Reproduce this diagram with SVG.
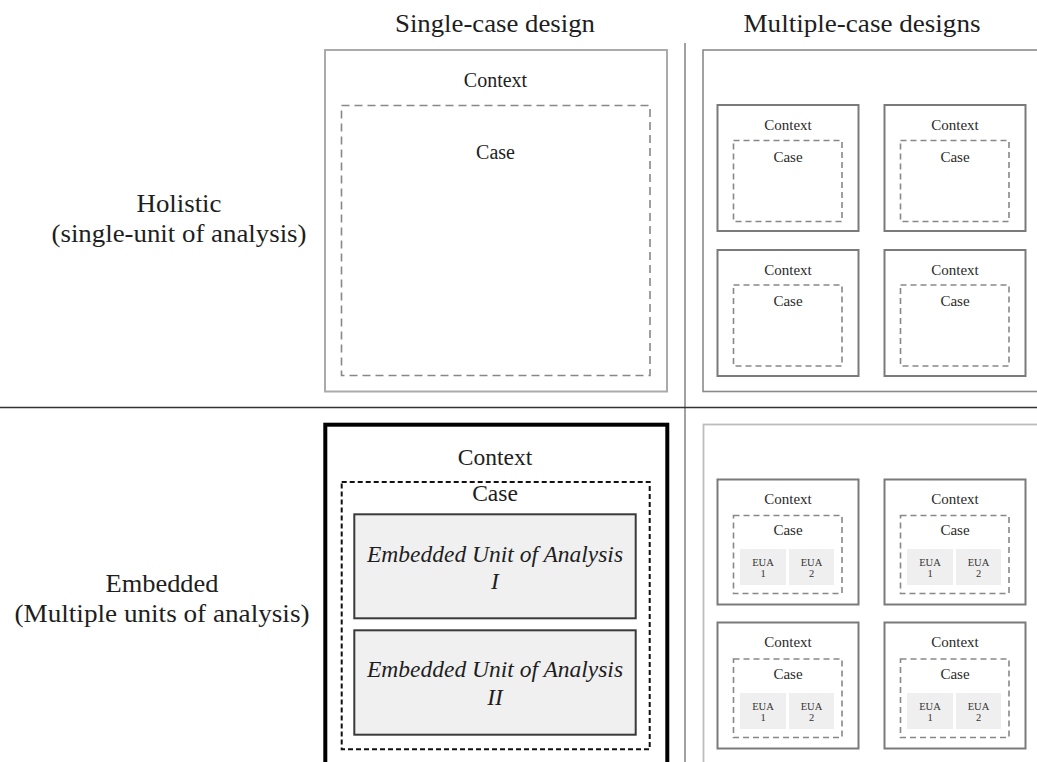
<svg xmlns="http://www.w3.org/2000/svg" width="1037" height="762" viewBox="0 0 1037 762">
  <style>
    text { font-family: 'Liberation Serif', 'Tinos', 'Times New Roman', Times, 'DejaVu Serif', serif; fill: #1e1e1e; text-anchor: middle; }
    .head { font-size: 25px; }
    .lbl20 { font-size: 20px; }
    .lbl23 { font-size: 23.5px; }
    .eua-big { font-size: 23.5px; font-style: italic; }
    .lbl15 { font-size: 15px; fill: #2a2a2a; }
    .eua-small { font-size: 10.5px; fill: #333; }
    .frame-light { fill: #fff; stroke: #aaa; stroke-width: 2; }
    .frame-mid { fill: none; stroke: #8a8a8a; stroke-width: 1.6; }
    .frame-pale { fill: none; stroke: #bdbdbd; stroke-width: 1.8; }
    .sub { fill: #fff; stroke: #7a7a7a; stroke-width: 2; }
    .dash-grey { fill: none; stroke: #888; stroke-width: 1.6; stroke-dasharray: 8 5; }
    .dash-small { fill: none; stroke: #888; stroke-width: 1.6; stroke-dasharray: 6 4; }
    .thick { fill: #fff; stroke: #000; stroke-width: 4; }
    .dash-black { fill: none; stroke: #111; stroke-width: 2; stroke-dasharray: 5 3; }
    .eua-box { fill: #f0f0f0; stroke: #3a3a3a; stroke-width: 2; }
    .eua-cell { fill: #efefef; }
  </style>

  <rect width="1037" height="762" fill="#fff"/>

  <!-- grid dividers -->
  <g id="dividers">
    <line x1="685" y1="43" x2="685" y2="762" stroke="#8a8a8a" stroke-width="1.6"/>
    <line x1="0" y1="407.5" x2="1037" y2="407.5" stroke="#333" stroke-width="1.6"/>
  </g>

  <g font-family="Liberation Serif, serif">
  <!-- column and row headings -->
  <g id="headings">
    <text class="head" x="495" y="32" textLength="200" lengthAdjust="spacingAndGlyphs">Single-case design</text>
    <text class="head" x="862" y="32" textLength="237" lengthAdjust="spacingAndGlyphs">Multiple-case designs</text>
    <text class="head" x="179" y="212" textLength="85" lengthAdjust="spacingAndGlyphs">Holistic</text>
    <text class="head" x="179" y="242" textLength="255" lengthAdjust="spacingAndGlyphs">(single-unit of analysis)</text>
    <text class="head" x="162" y="592" textLength="113" lengthAdjust="spacingAndGlyphs">Embedded</text>
    <text class="head" x="162" y="622" textLength="295" lengthAdjust="spacingAndGlyphs">(Multiple units of analysis)</text>
  </g>

  <!-- holistic single-case -->
  <g id="holistic-single">
    <rect class="frame-light" x="325" y="50" width="342" height="341.5"/>
    <text class="lbl20" x="495.5" y="86.5">Context</text>
    <rect class="dash-grey" x="341.5" y="105.5" width="308.5" height="270"/>
    <text class="lbl20" x="495.5" y="158.5">Case</text>
  </g>

  <!-- holistic multiple-case -->
  <g id="holistic-multiple">
    <rect class="frame-mid" x="703" y="50" width="360" height="341.5"/>
    <g id="hm-1">
      <rect class="sub" x="717.5" y="105" width="141" height="126"/>
      <text class="lbl15" x="788" y="130">Context</text>
      <rect class="dash-small" x="733.5" y="140.5" width="108.5" height="81"/>
      <text class="lbl15" x="788" y="161.5">Case</text>
    </g>
    <g id="hm-2">
      <rect class="sub" x="884.5" y="105" width="141" height="126"/>
      <text class="lbl15" x="955" y="130">Context</text>
      <rect class="dash-small" x="900.5" y="140.5" width="108.5" height="81"/>
      <text class="lbl15" x="955" y="161.5">Case</text>
    </g>
    <g id="hm-3">
      <rect class="sub" x="717.5" y="250" width="141" height="126"/>
      <text class="lbl15" x="788" y="274.5">Context</text>
      <rect class="dash-small" x="733.5" y="285" width="108.5" height="81"/>
      <text class="lbl15" x="788" y="306">Case</text>
    </g>
    <g id="hm-4">
      <rect class="sub" x="884.5" y="250" width="141" height="126"/>
      <text class="lbl15" x="955" y="274.5">Context</text>
      <rect class="dash-small" x="900.5" y="285" width="108.5" height="81"/>
      <text class="lbl15" x="955" y="306">Case</text>
    </g>
  </g>

  <!-- embedded single-case -->
  <g id="embedded-single">
    <rect class="thick" x="325.3" y="424.7" width="342" height="400"/>
    <text class="lbl23" x="495" y="465">Context</text>
    <rect class="dash-black" x="341.7" y="482" width="308" height="267.3"/>
    <text class="lbl23" x="495" y="500.5">Case</text>
    <g id="eua-1">
      <rect class="eua-box" x="354.3" y="514.3" width="281.4" height="104"/>
      <text class="eua-big" x="495" y="561.5">Embedded Unit of Analysis</text>
      <text class="eua-big" x="495" y="588.5">I</text>
    </g>
    <g id="eua-2">
      <rect class="eua-box" x="354.3" y="630.3" width="281.4" height="104.4"/>
      <text class="eua-big" x="495" y="676.5">Embedded Unit of Analysis</text>
      <text class="eua-big" x="495" y="705">II</text>
    </g>
  </g>

  <!-- embedded multiple-case -->
  <g id="embedded-multiple">
    <rect class="frame-pale" x="703.5" y="424.5" width="360" height="360"/>
    <g id="em-1">
      <rect class="sub" x="717.5" y="479.5" width="141" height="125"/>
      <text class="lbl15" x="788" y="503.5">Context</text>
      <rect class="dash-small" x="733.5" y="515.5" width="108.5" height="78"/>
      <text class="lbl15" x="788" y="534.5">Case</text>
      <rect class="eua-cell" x="740" y="549" width="46" height="36"/>
      <rect class="eua-cell" x="789" y="549" width="45" height="36"/>
      <text class="eua-small" x="763" y="566">EUA</text>
      <text class="eua-small" x="763" y="577">1</text>
      <text class="eua-small" x="811.5" y="566">EUA</text>
      <text class="eua-small" x="811.5" y="577">2</text>
    </g>
    <g id="em-2">
      <rect class="sub" x="884.5" y="479.5" width="141" height="125"/>
      <text class="lbl15" x="955" y="503.5">Context</text>
      <rect class="dash-small" x="900.5" y="515.5" width="108.5" height="78"/>
      <text class="lbl15" x="955" y="534.5">Case</text>
      <rect class="eua-cell" x="907" y="549" width="46" height="36"/>
      <rect class="eua-cell" x="956" y="549" width="45" height="36"/>
      <text class="eua-small" x="930" y="566">EUA</text>
      <text class="eua-small" x="930" y="577">1</text>
      <text class="eua-small" x="978.5" y="566">EUA</text>
      <text class="eua-small" x="978.5" y="577">2</text>
    </g>
    <g id="em-3">
      <rect class="sub" x="717.5" y="622.5" width="141" height="126"/>
      <text class="lbl15" x="788" y="647">Context</text>
      <rect class="dash-small" x="733.5" y="659" width="108.5" height="78.5"/>
      <text class="lbl15" x="788" y="678.5">Case</text>
      <rect class="eua-cell" x="740" y="693" width="46" height="36"/>
      <rect class="eua-cell" x="789" y="693" width="45" height="36"/>
      <text class="eua-small" x="763" y="709.5">EUA</text>
      <text class="eua-small" x="763" y="720.5">1</text>
      <text class="eua-small" x="811.5" y="709.5">EUA</text>
      <text class="eua-small" x="811.5" y="720.5">2</text>
    </g>
    <g id="em-4">
      <rect class="sub" x="884.5" y="622.5" width="141" height="126"/>
      <text class="lbl15" x="955" y="647">Context</text>
      <rect class="dash-small" x="900.5" y="659" width="108.5" height="78.5"/>
      <text class="lbl15" x="955" y="678.5">Case</text>
      <rect class="eua-cell" x="907" y="693" width="46" height="36"/>
      <rect class="eua-cell" x="956" y="693" width="45" height="36"/>
      <text class="eua-small" x="930" y="709.5">EUA</text>
      <text class="eua-small" x="930" y="720.5">1</text>
      <text class="eua-small" x="978.5" y="709.5">EUA</text>
      <text class="eua-small" x="978.5" y="720.5">2</text>
    </g>
  </g>
  </g>
</svg>
